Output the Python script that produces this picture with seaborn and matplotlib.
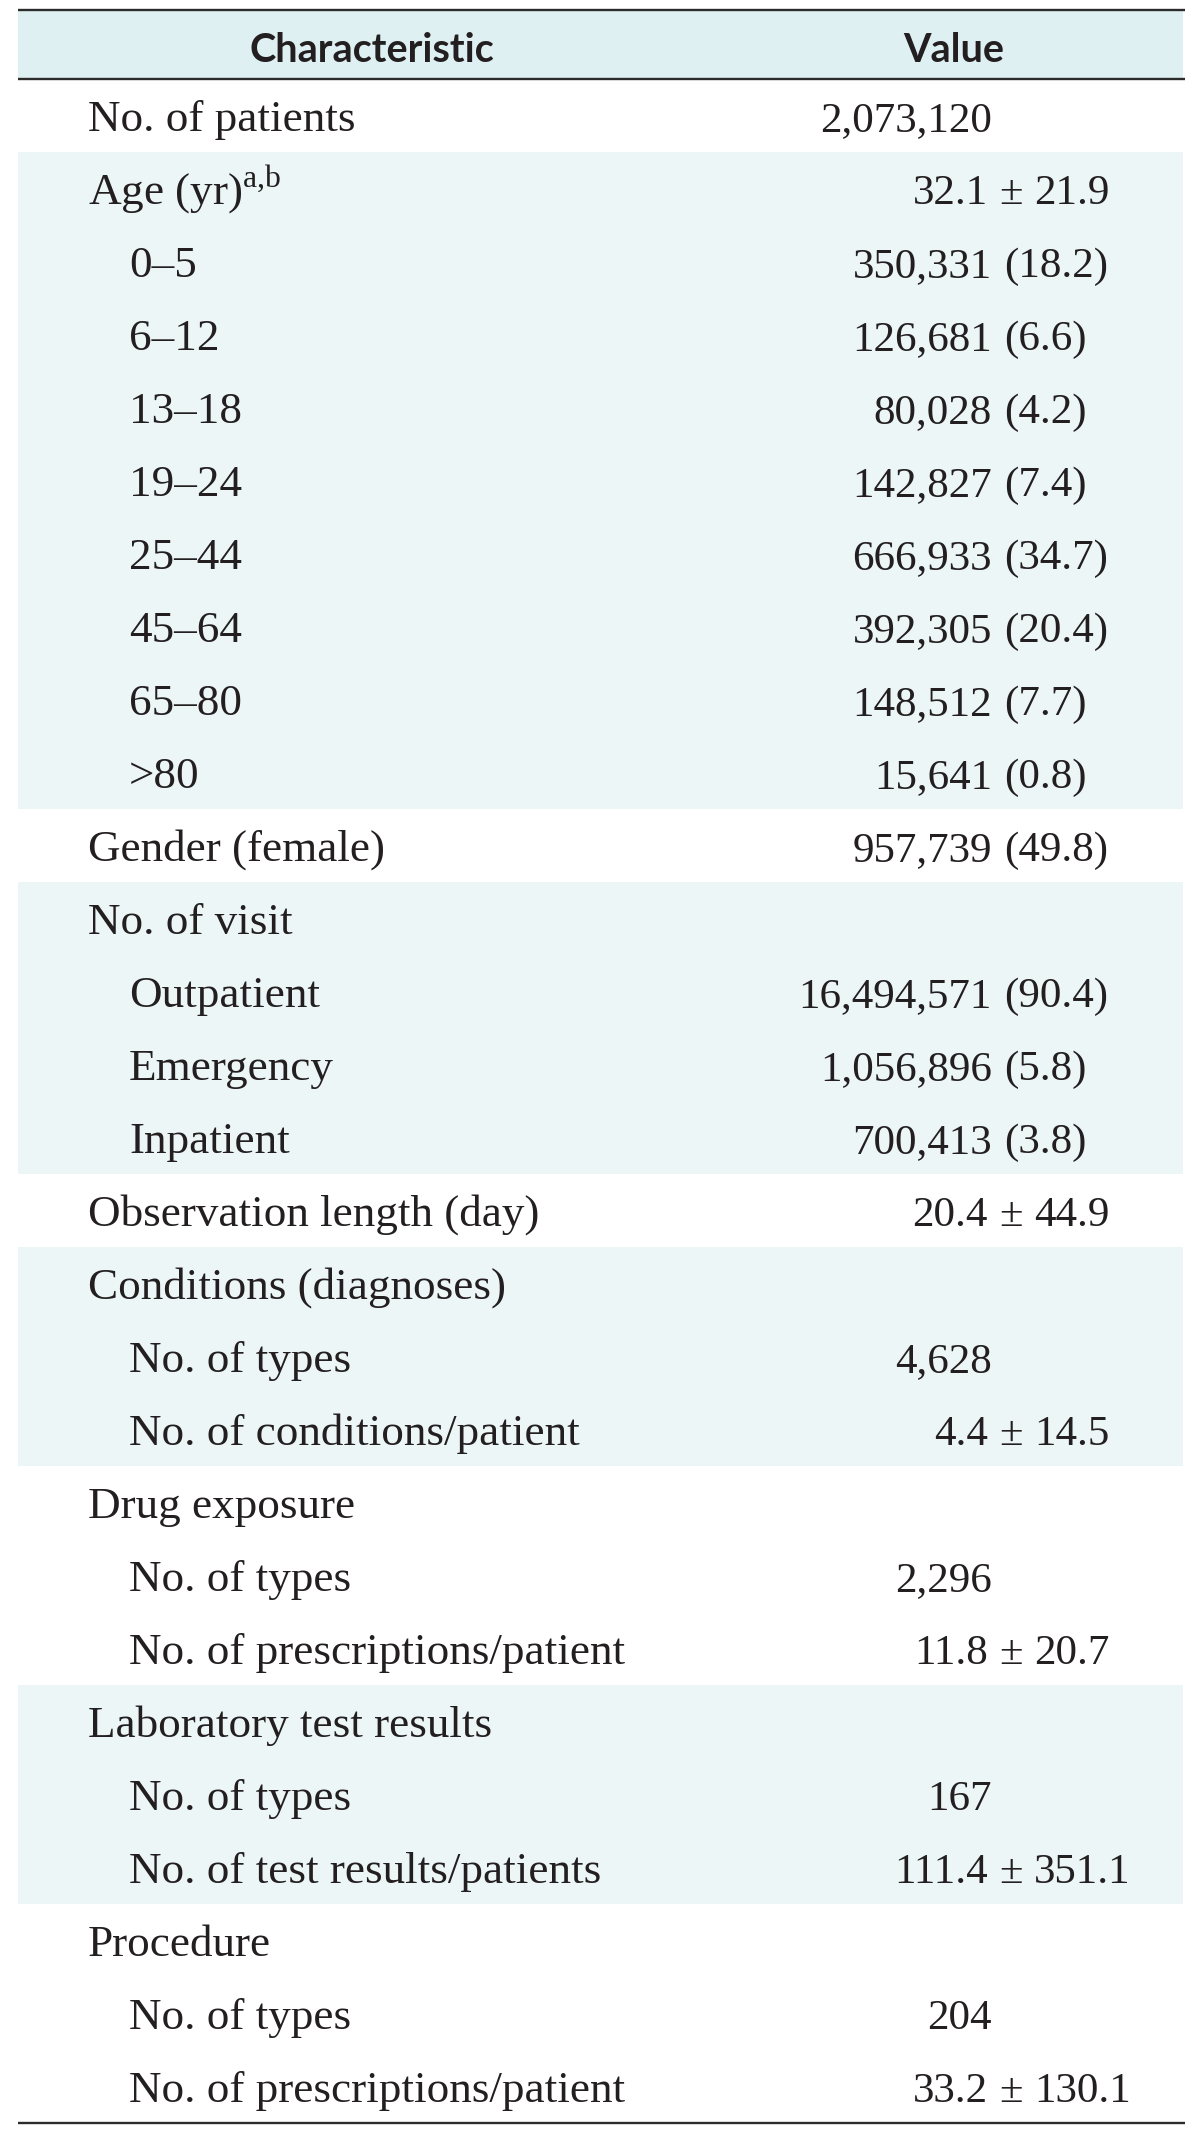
import matplotlib
matplotlib.use("Agg")
import matplotlib.pyplot as plt
import seaborn as sns
import pandas as pd

# table content
characteristics = [
    "No. of patients",
    "Age (yr)$^{\\mathrm{a{,}b}}$", "0\u20135", "6\u201312", "13\u201318", "19\u201324",
    "25\u201344", "45\u201364", "65\u201380", ">80",
    "Gender (female)",
    "No. of visit", "Outpatient", "Emergency", "Inpatient",
    "Observation length (day)",
    "Conditions (diagnoses)", "No. of types", "No. of conditions/patient",
    "Drug exposure", "No. of types", "No. of prescriptions/patient",
    "Laboratory test results", "No. of types", "No. of test results/patients",
    "Procedure", "No. of types", "No. of prescriptions/patient",
]
values = [
    "2,073,120",
    "32.1 \u00b1 21.9", "350,331 (18.2)", "126,681 (6.6)", "80,028 (4.2)", "142,827 (7.4)",
    "666,933 (34.7)", "392,305 (20.4)", "148,512 (7.7)", "15,641 (0.8)",
    "957,739 (49.8)",
    "", "16,494,571 (90.4)", "1,056,896 (5.8)", "700,413 (3.8)",
    "20.4 \u00b1 44.9",
    "", "4,628", "4.4 \u00b1 14.5",
    "", "2,296", "11.8 \u00b1 20.7",
    "", "167", "111.4 \u00b1 351.1",
    "", "204", "33.2 \u00b1 130.1",
]
levels = [0,
          0, 1, 1, 1, 1, 1, 1, 1, 1,
          0,
          0, 1, 1, 1,
          0,
          0, 1, 1,
          0, 1, 1,
          0, 1, 1,
          0, 1, 1]
headers = ["Characteristic", "Value"]

df = pd.DataFrame({"label": characteristics, "value": values, "level": levels})
# each level-0 row starts a new section; sections alternate shading
df["section"] = (df["level"] == 0).cumsum() - 1

sns.set_theme(style="white")
plt.rcParams["font.family"] = ["Liberation Serif", "DejaVu Serif"]
plt.rcParams["mathtext.fontset"] = "custom"
plt.rcParams["mathtext.rm"] = "Liberation Serif"

W, H = 1200, 2129
fig = plt.figure(figsize=(W / 100, H / 100), dpi=100)
ax = fig.add_axes([0, 0, 1, 1])
ax.set_xlim(0, W)
ax.set_ylim(H, 0)
ax.axis("off")

x0, x1 = 18, 1183
top, head_bot, row_h = 10, 79, 73.0
ink = "#231f20"
fs_lab = 32.5
fs_val = 31

# header band
ax.axhspan(top, head_bot, xmin=x0 / W, xmax=x1 / W, color="#dff0f3", lw=0)
for txt, xh in zip(headers, [372, 954]):
    ax.text(xh, 62, txt, ha="center", va="baseline", fontsize=28.5,
            family=["Lato", "DejaVu Sans"], fontweight="bold", color=ink)

xc = 992   # right edge of counts
xp = 1011  # centre of the plus-minus sign

for i, row in df.iterrows():
    y0 = head_bot + i * row_h
    if row["section"] % 2 == 1:
        ax.axhspan(y0, y0 + row_h, xmin=x0 / W, xmax=x1 / W, color="#ecf6f7", lw=0)
    yb = y0 + row_h / 2 + 15.5
    x_lab = 88 if row["level"] == 0 else 129
    ax.text(x_lab, yb, row["label"], ha="left", va="baseline", fontsize=fs_lab, color=ink)

    v = row["value"]
    if not v:
        continue
    if "\u00b1" in v:
        a, b = [s.strip() for s in v.split("\u00b1")]
        ax.text(xp - 23, yb, a, ha="right", va="baseline", fontsize=fs_val, color=ink)
        ax.text(xp, yb, "\u00b1", ha="center", va="baseline", fontsize=fs_val, color=ink)
        ax.text(xp + 23, yb, b, ha="left", va="baseline", fontsize=fs_val, color=ink)
    elif "(" in v:
        n, p = v.split(" ", 1)
        ax.text(xc, yb, n, ha="right", va="baseline", fontsize=fs_val, color=ink)
        ax.text(xc + 12, yb, p, ha="left", va="baseline", fontsize=fs_val, color=ink)
    else:
        ax.text(xc, yb, v, ha="right", va="baseline", fontsize=fs_val, color=ink)

bottom = head_bot + len(df) * row_h
ax.hlines([top, head_bot, bottom], x0, x1 + 2, colors="#2b2b2b", lw=1.7)

fig.savefig("out.png", dpi=100)
